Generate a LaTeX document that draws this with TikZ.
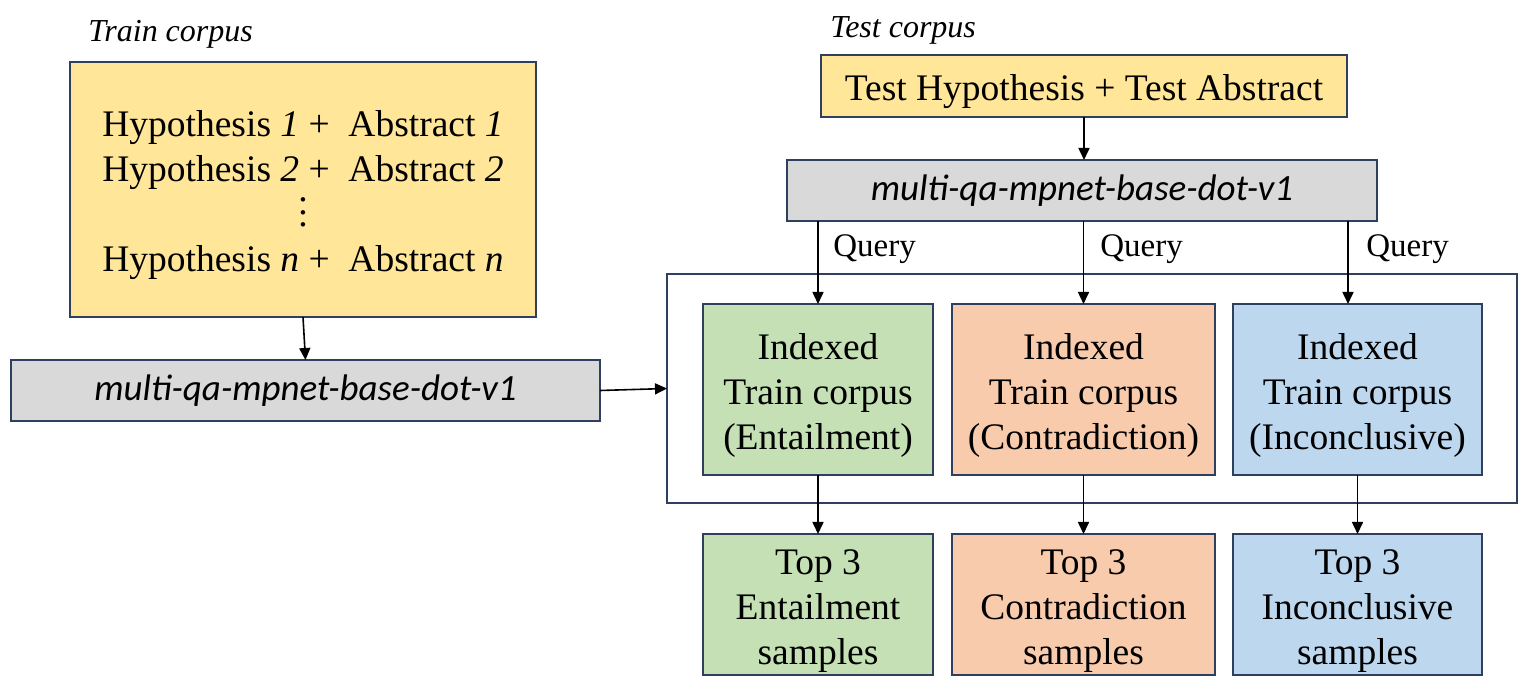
\documentclass[tikz,border=0pt]{standalone}
\usepackage{fontspec}
\setmainfont{Liberation Serif}
\newfontfamily\calib{Carlito}
\usetikzlibrary{arrows.meta}
\definecolor{bordc}{HTML}{2F3F60}
\definecolor{yellowc}{HTML}{FFE699}
\definecolor{grayc}{HTML}{D9D9D9}
\definecolor{greenc}{HTML}{C5E0B4}
\definecolor{orangec}{HTML}{F8CBAD}
\definecolor{bluec}{HTML}{BDD7EE}
\newcommand\topgap{\rule{0pt}{18.8pt}}
\newcommand\mydots{\vbox{\baselineskip=6.25pt\hbox{.}\hbox{.}\hbox{.}}}
\tikzset{
  boxbase/.style={draw=bordc, line width=1pt, inner sep=0pt, outer sep=0pt, align=center,
    font=\fontsize{18.75pt}{22.5pt}\selectfont},
  ybox/.style={boxbase, fill=yellowc},
  gbox/.style={boxbase, fill=grayc, font=\fontsize{18.5pt}{22pt}\selectfont\calib\itshape},
  catbox/.style={boxbase, minimum height=85.5pt},
  topbox/.style={boxbase, minimum height=70.5pt},
  conn/.style={line width=0.8pt, -{Triangle[length=6pt,width=5.5pt]}},
  corpuslbl/.style={anchor=base west, inner sep=0pt, font=\fontsize{16pt}{19pt}\selectfont\itshape},
  querylbl/.style={anchor=base west, inner sep=0pt, font=\fontsize{16.5pt}{19pt}\selectfont},
}
\begin{document}
\begin{tikzpicture}[x=0.5pt,y=-0.5pt]
\useasboundingbox (0,0) rectangle (1526,694);

% left side
\node[corpuslbl] (trainlbl) at (88,42) {Train corpus};
\node[ybox, minimum width=233pt, minimum height=127.5pt] (yl) at (303,189.5)
  {\topgap Hypothesis \textit{1} +\ \ Abstract \textit{1}\\
   Hypothesis \textit{2} +\ \ Abstract \textit{2}\\
   \mydots\\
   Hypothesis \textit{n} +\ \ Abstract \textit{n}};
\node[gbox, minimum width=294.5pt, minimum height=30.5pt] (gl) at (305.5,390.5) {multi-qa-mpnet-base-dot-v1};

% right side
\node[corpuslbl] (testlbl) at (830,38) {Test corpus};
\node[ybox, minimum width=263pt, minimum height=31pt] (test) at (1084,86) {\topgap Test Hypothesis + Test Abstract};
\node[gbox, minimum width=295pt, minimum height=30.5pt] (gr) at (1082,190.5) {multi-qa-mpnet-base-dot-v1};

\node[draw=bordc, line width=1pt, inner sep=0pt, outer sep=0pt, minimum width=425pt, minimum height=114.5pt] (outer) at (1092,388.5) {};

\node[catbox, fill=greenc, minimum width=115pt] (ie) at (818,389.5) {\topgap Indexed\\Train corpus\\(Entailment)};
\node[catbox, fill=orangec, minimum width=131.5pt] (ic) at (1083.5,389.5) {\topgap Indexed\\Train corpus\\(Contradiction)};
\node[catbox, fill=bluec, minimum width=124.5pt] (ii) at (1357.5,389.5) {\topgap Indexed\\Train corpus\\(Inconclusive)};

\node[topbox, fill=greenc, minimum width=115pt] (te) at (818,604.5) {\topgap Top 3\\Entailment\\samples};
\node[topbox, fill=orangec, minimum width=131.5pt] (tc) at (1083.5,604.5) {\topgap Top 3\\Contradiction\\samples};
\node[topbox, fill=bluec, minimum width=124.5pt] (ti) at (1357.5,604.5) {\topgap Top 3\\Inconclusive\\samples};

\node[querylbl] (q1) at (833,257) {Query};
\node[querylbl] (q2) at (1100,257) {Query};
\node[querylbl] (q3) at (1366,257) {Query};

\coordinate (qb) at (1348,221);

% connectors
\draw[conn] (yl.south) -- (gl.north);
\draw[conn] (gl.east) -- (outer.west);
\draw[conn] (test.south) -- (test.south |- gr.north);
\draw[conn] (gr.south -| ie.north) -- (ie.north);
\draw[conn] (gr.south -| ic.north) -- (ic.north);
\draw[conn] (qb) -- (ii.north -| qb);
\draw[conn] (ie.south) -- (te.north);
\draw[conn] (ic.south) -- (tc.north);
\draw[conn] (ii.south) -- (ti.north);
\end{tikzpicture}
\end{document}
